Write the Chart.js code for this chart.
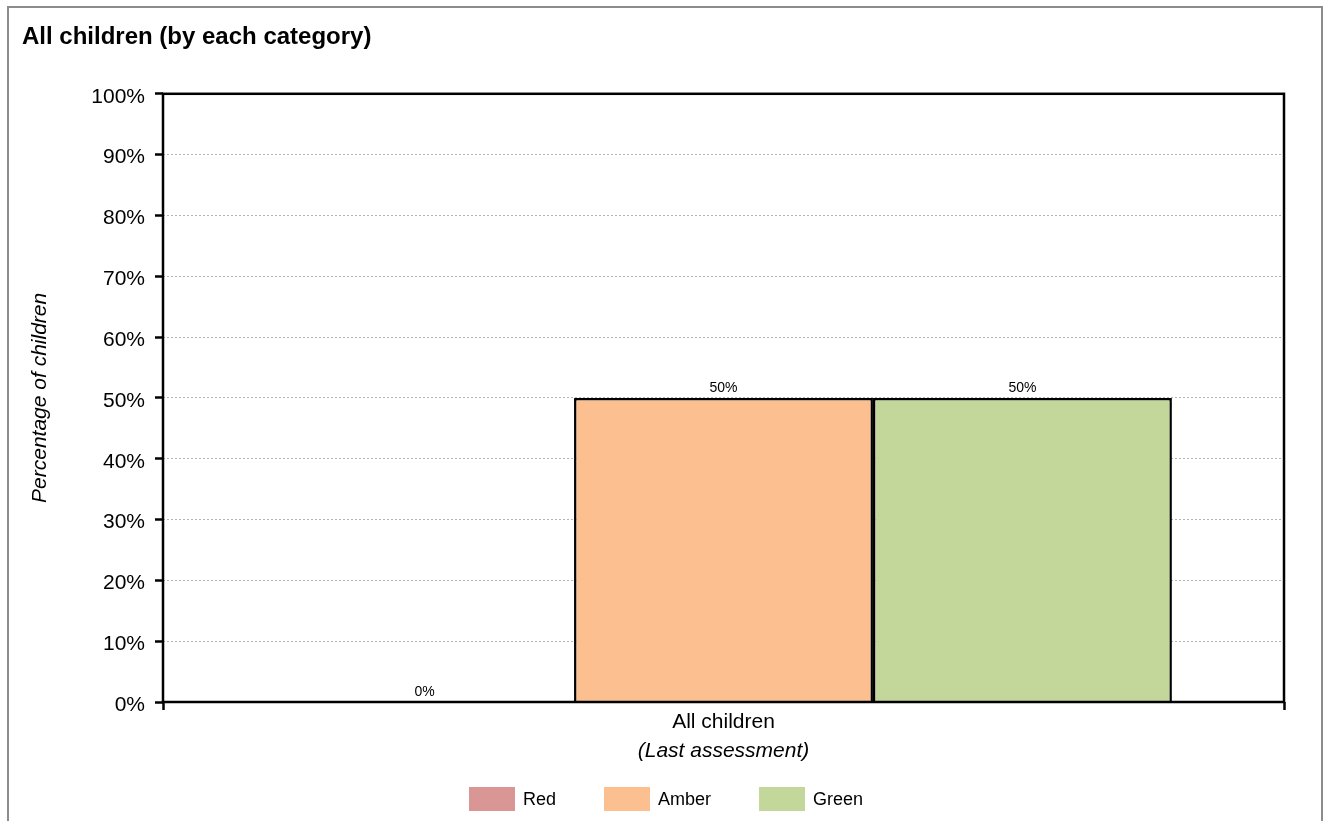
<!DOCTYPE html>
<html>
<head>
<meta charset="utf-8">
<script src="https://cdn.jsdelivr.net/npm/chart.js@4/dist/chart.umd.min.js"></script>
<style>
  body { margin: 0; background: #fff; }
  .frame { margin: 6px 0 0 7px; width: 1312px; height: 830px; border: 2px solid #8c8c8c; box-sizing: content-box; }
  canvas { display: block; }
</style>
</head>
<body>
<div class="frame"><canvas id="bars" width="1312" height="813"></canvas></div>
<script>
const categories = ['All children'];
const seriesNames = ['Red', 'Amber', 'Green'];
const redValues = [0];
const amberValues = [50];
const greenValues = [50];
const seriesColours = ['#DA9694', '#FCBF8F', '#C4D79B'];

Chart.defaults.font.family = 'Arial, "Liberation Sans", sans-serif';
Chart.defaults.color = '#000';

// black box round the plot area
const plotFrame = {
    id: 'plotFrame',
    afterDatasetsDraw(chart) {
        const a = chart.chartArea;
        const ctx = chart.ctx;
        ctx.save();
        ctx.strokeStyle = '#000';
        ctx.lineWidth = 2.5;
        ctx.strokeRect(a.left, a.top, a.right - a.left, a.bottom - a.top);
        ctx.restore();
    }
};

// value above each bar
const valueLabels = {
    id: 'valueLabels',
    afterDraw(chart) {
        const ctx = chart.ctx;
        ctx.save();
        ctx.font = '14px Arial, "Liberation Sans", sans-serif';
        ctx.fillStyle = '#000';
        ctx.textAlign = 'center';
        ctx.textBaseline = 'bottom';
        chart.data.datasets.forEach((ds, i) => {
            chart.getDatasetMeta(i).data.forEach((bar, j) => {
                ctx.fillText(ds.data[j] + '%', bar.x, bar.y - 3);
            });
        });
        ctx.restore();
    }
};

// legend drawn by hand so the items can sit wide apart
const wideLegend = {
    id: 'wideLegend',
    afterDraw(chart) {
        const ctx = chart.ctx;
        const boxW = 46, boxH = 24, gap = 8, spacing = 48, top = 779;
        ctx.save();
        ctx.font = '18px Arial, "Liberation Sans", sans-serif';
        ctx.textBaseline = 'middle';
        const items = chart.data.datasets.map(ds => ({
            text: ds.label, colour: ds.backgroundColor,
            w: boxW + gap + ctx.measureText(ds.label).width
        }));
        const total = items.reduce((s, it) => s + it.w, 0) + spacing * (items.length - 1);
        let x = Math.round((chart.width - total) / 2) + 1;
        items.forEach(it => {
            ctx.fillStyle = it.colour;
            ctx.fillRect(x, top, boxW, boxH);
            ctx.fillStyle = '#000';
            ctx.fillText(it.text, x + boxW + gap, top + boxH / 2 + 1);
            x += it.w + spacing;
        });
        ctx.restore();
    }
};

const ctx = document.getElementById('bars').getContext('2d');
const bars = new Chart(ctx, {
    type: 'bar',
    data: {
        labels: categories,
        datasets: [
            { label: seriesNames[0], data: redValues, backgroundColor: seriesColours[0] },
            { label: seriesNames[1], data: amberValues, backgroundColor: seriesColours[1] },
            { label: seriesNames[2], data: greenValues, backgroundColor: seriesColours[2] }
        ]
    },
    options: {
        responsive: false,
        animation: false,
        layout: { padding: { left: 13, right: 37, top: 0, bottom: 49 } },
        datasets: {
            bar: {
                borderColor: '#000',
                borderWidth: 2.5,
                categoryPercentage: 0.8,
                barPercentage: 1
            }
        },
        plugins: {
            legend: { display: false },
            tooltip: { enabled: false },
            title: {
                display: true,
                text: 'All children (by each category)',
                align: 'start',
                font: { size: 24, weight: 'bold' },
                padding: { top: 15, bottom: 42 }
            }
        },
        scales: {
            x: {
                grid: {
                    offset: true,
                    drawOnChartArea: false,
                    tickLength: 8,
                    tickColor: '#000',
                    tickWidth: 2.5
                },
                border: { display: false },
                ticks: { font: { size: 21 }, padding: 0 },
                title: {
                    display: true,
                    text: '(Last assessment)',
                    font: { size: 21, style: 'italic' },
                    padding: { top: 0, bottom: 8 }
                },
                afterFit(scale) { scale.height = 70; }
            },
            y: {
                min: 0,
                max: 100,
                grid: {
                    color: '#b4b4b4',
                    lineWidth: 1,
                    tickLength: 8,
                    tickColor: '#000',
                    tickWidth: 2.5
                },
                border: { display: false, dash: [2, 2] },
                ticks: {
                    stepSize: 10,
                    padding: 10,
                    labelOffset: 3,
                    font: { size: 21 },
                    callback: v => v + '%'
                },
                title: {
                    display: true,
                    text: 'Percentage of children',
                    font: { size: 21, style: 'italic' },
                    padding: { top: 6, bottom: 0 }
                },
                afterFit(scale) { scale.width = 141; }
            }
        }
    },
    plugins: [plotFrame, valueLabels, wideLegend]
});
</script>
</body>
</html>
